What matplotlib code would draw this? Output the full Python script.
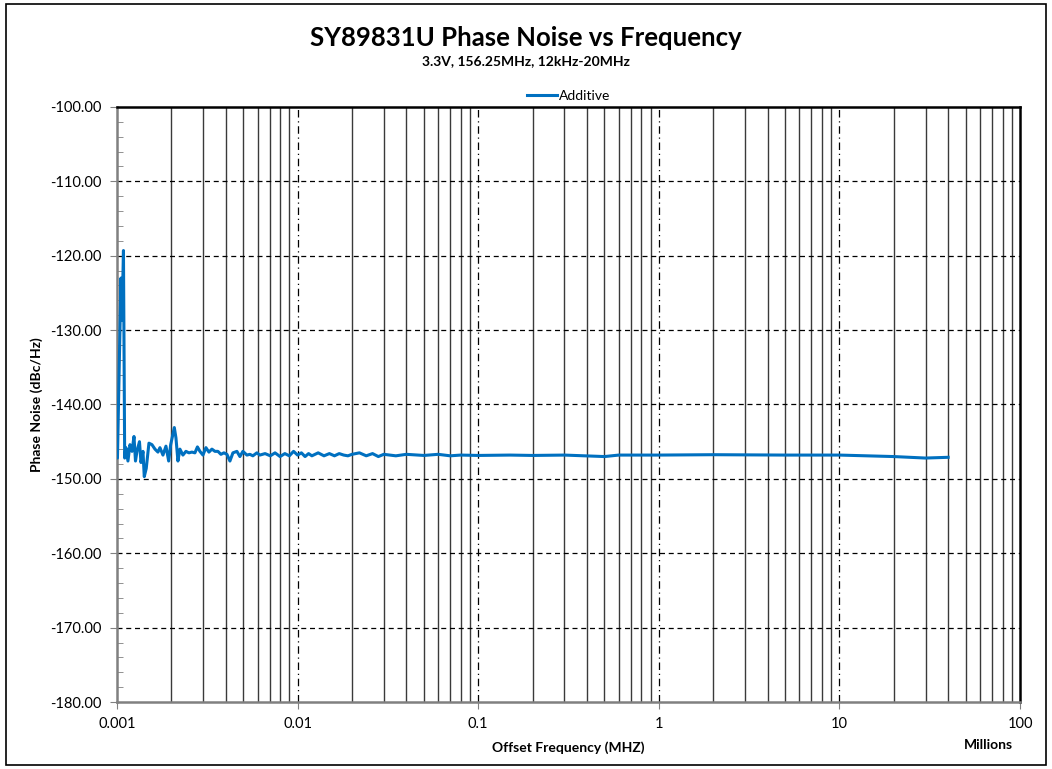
import matplotlib
matplotlib.use("Agg")
import matplotlib.pyplot as plt
from matplotlib.patches import Rectangle
from matplotlib.ticker import FixedLocator, MultipleLocator, NullFormatter

plt.rcParams['font.family'] = ['Lato', 'DejaVu Sans']

# offset frequency in MHz
freq_mhz = [
    0.001, 0.001006, 0.001052, 0.001066, 0.001086, 0.001103, 0.001121, 0.00115,
    0.00118, 0.001211, 0.001242, 0.001266, 0.00129, 0.001332, 0.001358, 0.001393,
    0.001416, 0.001452, 0.001503, 0.001562, 0.001623, 0.001686, 0.001729, 0.001797,
    0.001867, 0.001933, 0.001983, 0.002077, 0.002121, 0.002175, 0.002231, 0.002318,
    0.002408, 0.002502, 0.0026, 0.002701, 0.002789, 0.002879, 0.002992, 0.003108,
    0.003229, 0.003355, 0.003486, 0.003622, 0.003763, 0.00391, 0.004062, 0.004221,
    0.004385, 0.004613, 0.004793, 0.00498, 0.005239, 0.005443, 0.005655, 0.005949,
    0.006181, 0.006607, 0.007062, 0.0075, 0.008, 0.0085, 0.009, 0.0095,
    0.01, 0.0105, 0.011, 0.0115, 0.012, 0.013, 0.014, 0.015,
    0.016, 0.017, 0.018, 0.019, 0.02, 0.022, 0.024, 0.026,
    0.028, 0.03, 0.035, 0.04, 0.05, 0.06, 0.07, 0.08,
    0.1, 0.15, 0.2, 0.3, 0.5, 0.6, 1, 2,
    5, 10, 20, 30, 40,
]
# additive phase noise, dBc/Hz
noise_dbc = [
    -143.8, -147.2, -123.0, -128.7, -119.3, -147.2, -145.8, -147.6,
    -145.4, -146.3, -144.3, -147.6, -146.3, -145.0, -147.8, -146.3,
    -149.7, -148.6, -145.2, -145.4, -146.0, -146.4, -145.8, -146.8,
    -145.6, -147.6, -145.4, -143.1, -144.5, -147.6, -146.0, -146.8,
    -146.3, -146.5, -146.4, -146.5, -145.7, -146.3, -146.8, -145.8,
    -146.4, -146.0, -146.3, -146.3, -146.7, -146.5, -146.7, -147.6,
    -146.5, -146.3, -147.0, -146.3, -146.8, -146.7, -146.9, -146.5,
    -146.8, -146.6, -146.9, -146.5, -147.0, -146.6, -146.9, -146.3,
    -146.8, -146.5, -147.0, -146.6, -146.9, -146.5, -146.9, -146.6,
    -146.9, -146.6, -146.8, -146.9, -146.7, -146.5, -146.9, -146.6,
    -147.0, -146.7, -146.9, -146.7, -146.85, -146.7, -146.9, -146.8,
    -146.85, -146.8, -146.85, -146.8, -147.0, -146.8, -146.8, -146.75,
    -146.8, -146.8, -147.0, -147.2, -147.1,
]

decades = [0.001, 0.01, 0.1, 1, 10, 100]
decade_labels = ['0.001', '0.01', '0.1', '1', '10', '100']
minor_x = [m * d for d in decades[:-1] for m in range(2, 10)]
y_ticks = [-180, -170, -160, -150, -140, -130, -120, -110, -100]

fig = plt.figure(figsize=(10.52, 7.69), dpi=100)
ax = fig.add_axes([0.1112, 0.0871, 0.8584, 0.7738])

ax.set_xscale('log')
ax.set_xlim(0.001, 100)
ax.set_ylim(-180, -100)

# grid: solid minor verticals, dash-dot decades, dashed horizontals
for xm in minor_x:
    ax.axvline(xm, color='#3a3a3a', lw=1.0, zorder=1)
for xd in decades[1:-1]:
    ax.axvline(xd, color='black', lw=0.9, ls=(0, (6, 3, 1, 3)), zorder=1)
for yv in y_ticks[1:-1]:
    ax.axhline(yv, color='black', lw=0.9, ls=(0, (4, 3)), zorder=1)

ax.plot(freq_mhz, noise_dbc, color='#0070C0', lw=2.2, label='Additive', zorder=3)

ax.xaxis.set_major_locator(FixedLocator(decades))
ax.set_xticklabels(decade_labels)
ax.xaxis.set_minor_locator(FixedLocator([]))
ax.xaxis.set_minor_formatter(NullFormatter())
ax.set_yticks(y_ticks)
ax.set_yticklabels([f'{v:.2f}' for v in y_ticks])
ax.yaxis.set_minor_locator(MultipleLocator(2))
ax.tick_params(axis='both', which='major', labelsize=10.5, direction='out',
               length=5, color='#808080', pad=6)
ax.tick_params(axis='y', which='minor', direction='in', length=4, color='#808080')

for side in ['left', 'bottom']:
    ax.spines[side].set_color('#808080')
    ax.spines[side].set_linewidth(1.8)
for side in ['top', 'right']:
    ax.spines[side].set_color('black')
    ax.spines[side].set_linewidth(1.8)

ax.set_xlabel('Offset Frequency (MHZ)', fontsize=10, fontweight='bold', labelpad=7)
ax.set_ylabel('Phase Noise (dBc/Hz)', fontsize=10, fontweight='bold', labelpad=5)
fig.text(0.94, 0.031, 'Millions', fontsize=10, fontweight='bold', ha='center', va='center')

fig.text(0.5, 0.951, 'SY89831U Phase Noise vs Frequency', fontsize=18.5, fontweight='bold',
         ha='center', va='center')
fig.text(0.5, 0.921, '3.3V, 156.25MHz, 12kHz-20MHz', fontsize=10, fontweight='bold',
         ha='center', va='center')

ax.legend(loc='lower center', bbox_to_anchor=(0.5, 0.995), frameon=False, fontsize=10,
          handlelength=2.2, handletextpad=0.1, borderaxespad=0.2)

fig.patches.append(Rectangle((6 / 1052, 4 / 769), 1 - 12 / 1052, 1 - 8 / 769,
                             transform=fig.transFigure, fill=False,
                             edgecolor='black', lw=1.2))

fig.savefig('out.png', dpi=100)
